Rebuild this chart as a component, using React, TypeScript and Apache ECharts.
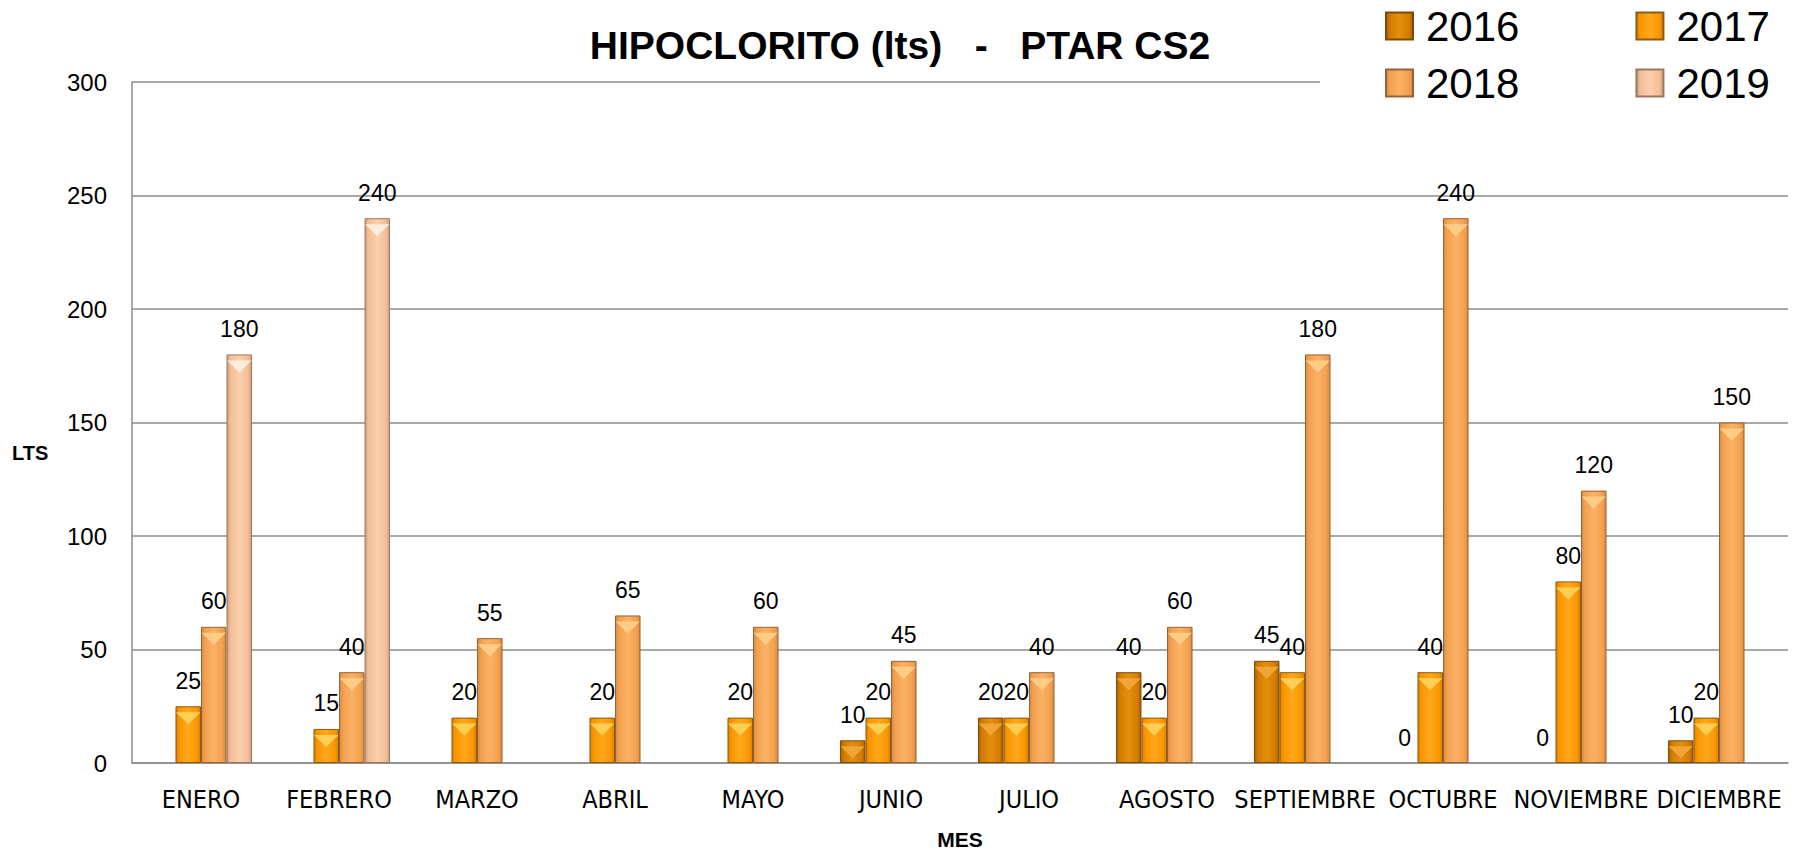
import React, { useEffect, useRef } from "react";
import * as echarts from "echarts";

const months = ["ENERO", "FEBRERO", "MARZO", "ABRIL", "MAYO", "JUNIO", "JULIO", "AGOSTO", "SEPTIEMBRE", "OCTUBRE", "NOVIEMBRE", "DICIEMBRE"];
const years = ["2016", "2017", "2018", "2019"];
const v2016 = [null, null, null, null, null, 10, 20, 40, 45, 0, 0, 10];
const v2017 = [25, 15, 20, 20, 20, 20, 20, 20, 40, 40, 80, 20];
const v2018 = [60, 40, 55, 65, 60, 45, 40, 60, 180, 240, 120, 150];
const v2019 = [180, 240, null, null, null, null, null, null, null, null, null, null];
const yTicks = [0, 50, 100, 150, 200, 250, 300];

const palettes = [
  { edge: "#A85E00", mid: "#D37C00", light: "#E3900E", border: "#7A4A10", hi: "#F2A83A" },
  { edge: "#D98200", mid: "#FA9600", light: "#FFA81C", border: "#8C5A14", hi: "#FFD45C" },
  { edge: "#D88A40", mid: "#F3A04E", light: "#FBB266", border: "#93633A", hi: "#FDD08A" },
  { edge: "#CF9D7C", mid: "#F2BE98", light: "#FCCFAC", border: "#9A7760", hi: "#FFF1E2" },
];

function grad(p: any) {
  return new echarts.graphic.LinearGradient(0, 0, 1, 0, [
    { offset: 0, color: p.edge },
    { offset: 0.14, color: p.mid },
    { offset: 0.5, color: p.light },
    { offset: 0.86, color: p.mid },
    { offset: 1, color: p.edge },
  ]);
}

export default function App() {
  const ref = useRef<HTMLDivElement>(null);
  useEffect(() => {
    if (!ref.current) return;
    const chart = echarts.init(ref.current, undefined, { renderer: "svg" });
    const values = [v2016, v2017, v2018, v2019];
    const bars = years.map((y, i) => ({
      name: y,
      type: "bar",
      data: values[i].map((v) => (v === 0 ? { value: 0, itemStyle: { borderWidth: 0 } } : v)),
      barGap: "0%",
      barCategoryGap: "26%",
      z: 2,
      itemStyle: { color: grad(palettes[i]), borderColor: palettes[i].border, borderWidth: 1 },
      label: {
        show: true,
        position: "top",
        distance: 14,
        color: "#000",
        fontFamily: "Liberation Sans",
        fontSize: 23,
      },
    }));
    const bevels = years.map((y, i) => ({
      name: y + " bisel",
      type: "pictorialBar",
      data: values[i].map((v) => (v ? v : null)),
      barGap: "0%",
      barCategoryGap: "26%",
      symbol: "triangle",
      symbolRotate: 180,
      symbolPosition: "end",
      symbolSize: ["96%", 12],
      symbolOffset: [0, "50%"],
      z: 3,
      silent: true,
      itemStyle: { color: palettes[i].hi, opacity: 0.9 },
      label: { show: false },
    }));
    const legendCommon = {
      itemWidth: 27,
      itemHeight: 27,
      itemGap: 116,
      icon: "rect",
      backgroundColor: "#fff",
      textStyle: { fontFamily: "Liberation Sans", fontSize: 42, color: "#000", lineHeight: 46, padding: [0, 0, 0, 8] },
    };
    chart.setOption({
      animation: false,
      backgroundColor: "#fff",
      title: {
        text: "HIPOCLORITO (lts)   -   PTAR CS2",
        left: "center",
        top: 21,
        textStyle: { fontFamily: "Liberation Sans", fontWeight: "bold", fontSize: 39, color: "#000" },
      },
      legend: [
        { ...legendCommon, data: ["2016", "2017"], left: 1320, top: 0, padding: [3, 20, 3, 65] },
        { ...legendCommon, data: ["2018", "2019"], left: 1320, top: 55, padding: [5, 20, 5, 65] },
      ],
      grid: { left: 132, right: 12, top: 82, bottom: 85 },
      xAxis: {
        type: "category",
        data: months,
        axisLine: { show: true, lineStyle: { color: "#8c8c8c", width: 1.5 } },
        axisTick: { show: false },
        axisLabel: { fontFamily: "Liberation Sans Narrow, DejaVu Sans Condensed, Liberation Sans", fontSize: 25, color: "#000", margin: 24, interval: 0 },
        name: "MES",
        nameLocation: "middle",
        nameGap: 66,
        nameTextStyle: { fontFamily: "Liberation Sans", fontWeight: "bold", fontSize: 21, color: "#000" },
      },
      yAxis: {
        type: "value",
        min: yTicks[0],
        max: yTicks[yTicks.length - 1],
        interval: 50,
        axisLine: { show: true, lineStyle: { color: "#8c8c8c", width: 1.5 } },
        axisTick: { show: false },
        splitLine: { show: true, lineStyle: { color: "#8c8c8c", width: 1.5 } },
        axisLabel: { fontFamily: "Liberation Sans", fontSize: 24, color: "#000", margin: 25 },
      },
      graphic: [
        {
          type: "text",
          left: 12,
          top: 443,
          style: { text: "LTS", fontFamily: "Liberation Sans", fontWeight: "bold", fontSize: 20, fill: "#000" },
        },
      ],
      series: [...bars, ...bevels],
    });
    return () => chart.dispose();
  }, []);
  return <div ref={ref} style={{ position: "fixed", left: 0, top: 0, width: 1800, height: 855 }} />;
}
